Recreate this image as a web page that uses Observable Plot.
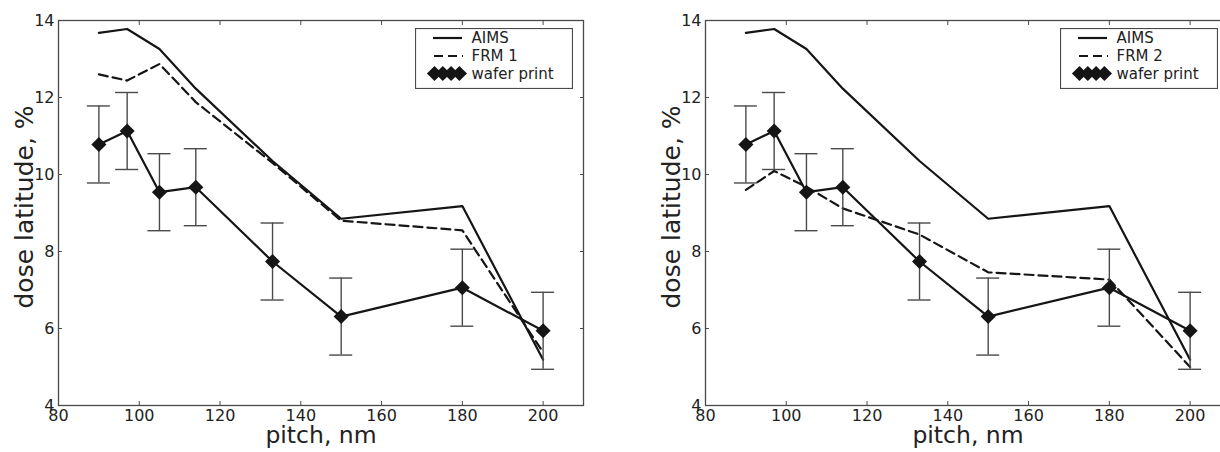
<!DOCTYPE html>
<html>
<head>
<meta charset="utf-8">
<script src="https://cdn.jsdelivr.net/npm/d3@7"></script>
<script src="https://cdn.jsdelivr.net/npm/@observablehq/plot@0.6"></script>
<style>
  html, body { margin: 0; padding: 0; background: #fff; overflow: hidden; }
  #wrap { position: relative; width: 1220px; height: 452px; overflow: hidden; font-family: "DejaVu Sans", sans-serif; }
  .panel { position: absolute; top: 0; }
  .legend { position: absolute; top: 28px; }
</style>
</head>
<body>
<div id="wrap"></div>
<script>
// ---- data ----
const pitch = [90, 97, 105, 114, 133, 150, 180, 200];
const aims  = [13.68, 13.78, 13.26, 12.23, 10.35, 8.85, 9.18, 5.19];
const frm1  = [12.60, 12.44, 12.87, 11.88, 10.30, 8.80, 8.55, 5.38];
const frm2  = [9.60, 10.09, 9.68, 9.12, 8.44, 7.46, 7.27, 5.00];
const wafer = [10.78, 11.13, 9.54, 9.67, 7.74, 6.31, 7.06, 5.94];
const waferErr = [1, 1, 1, 1, 1, 1, 1, 1];
const xTicks = [80, 100, 120, 140, 160, 180, 200];
const yTicks = [4, 6, 8, 10, 12, 14];
const xDomain = [80, 210];
const yDomain = [4, 14];
const capHalf = 2.85; // half width of error-bar caps, in pitch units

const rows = (ys) => pitch.map((x, i) => ({x, y: ys[i]}));
const waferRows = pitch.map((x, i) => ({x, y: wafer[i], lo: wafer[i] - waferErr[i], hi: wafer[i] + waferErr[i]}));

const INK = "#151515", FRAME = "#4a4a4a", ERR = "#4a4a4a";

function panel(frm, marginLeft) {
  const marginRight = 27;
  return Plot.plot({
    width: marginLeft + 525 + marginRight,
    height: 452,
    marginLeft, marginRight, marginTop: 20, marginBottom: 47,
    x: {domain: xDomain},
    y: {domain: yDomain},
    style: {fontFamily: "DejaVu Sans", fontSize: "16px", color: "#222", background: "transparent", overflow: "visible"},
    marks: [
      Plot.axisX(xTicks, {anchor: "bottom", tickSize: -4, text: null, label: null, stroke: FRAME}),
      Plot.axisX(xTicks.slice(1), {anchor: "top", tickSize: -4, text: null, label: null, stroke: FRAME}),
      Plot.axisX(xTicks, {anchor: "bottom", tickSize: 0, tickPadding: 4, label: null, fontSize: 16}),
      Plot.axisY(yTicks, {anchor: "left", tickSize: -4, text: null, label: null, stroke: FRAME}),
      Plot.axisY(yTicks, {anchor: "right", tickSize: -4, text: null, label: null, stroke: FRAME}),
      Plot.axisY(yTicks, {anchor: "left", tickSize: 0, tickPadding: 4, label: null, fontSize: 16}),
      Plot.frame({stroke: FRAME, strokeWidth: 1.3}),
      Plot.line(rows(aims), {x: "x", y: "y", stroke: INK, strokeWidth: 2.2}),
      Plot.line(rows(frm), {x: "x", y: "y", stroke: INK, strokeWidth: 2.2, strokeDasharray: "9,5"}),
      Plot.ruleX(waferRows, {x: "x", y1: "lo", y2: "hi", stroke: ERR, strokeWidth: 1.4}),
      Plot.ruleY(waferRows, {y: "lo", x1: d => d.x - capHalf, x2: d => d.x + capHalf, stroke: ERR, strokeWidth: 1.4}),
      Plot.ruleY(waferRows, {y: "hi", x1: d => d.x - capHalf, x2: d => d.x + capHalf, stroke: ERR, strokeWidth: 1.4}),
      Plot.line(waferRows, {x: "x", y: "y", stroke: INK, strokeWidth: 2.2}),
      Plot.dot(waferRows, {x: "x", y: "y", symbol: "diamond2", r: 6.8, fill: INK, stroke: "none"}),
      Plot.text(["pitch, nm"], {frameAnchor: "bottom", textAnchor: "middle", dy: 37, fontSize: 23.5, fill: "#222"}),
      Plot.text(["dose latitude, %"], {frameAnchor: "left", textAnchor: "middle", rotate: -90, dx: -34, dy: -6, fontSize: 25, fill: "#222"})
    ]
  });
}

function legendSvg(frmLabel) {
  const svg = d3.create("svg").attr("width", 158).attr("height", 61);
  svg.append("rect").attr("x", 0.5).attr("y", 0.5).attr("width", 157).attr("height", 60)
    .attr("fill", "#fff").attr("stroke", FRAME).attr("stroke-width", 1.2);
  svg.append("line").attr("x1", 18).attr("x2", 47).attr("y1", 10).attr("y2", 10)
    .attr("stroke", INK).attr("stroke-width", 2.2);
  svg.append("line").attr("x1", 18).attr("x2", 48).attr("y1", 28).attr("y2", 28)
    .attr("stroke", INK).attr("stroke-width", 2.2).attr("stroke-dasharray", "9,5").attr("stroke-dashoffset", -1);
  [19.5, 27.8, 36.1, 44.4].forEach(cx => {
    svg.append("path").attr("d", `M${cx},${45.5 - 7.6}L${cx + 7.6},45.5L${cx},${45.5 + 7.6}L${cx - 7.6},45.5Z`).attr("fill", INK);
  });
  const labels = ["AIMS", frmLabel, "wafer print"];
  [10, 28, 46].forEach((y, i) => {
    svg.append("text").attr("x", 56.5).attr("y", y).attr("dy", "0.36em")
      .attr("font-family", "DejaVu Sans").attr("font-size", 15).attr("fill", "#222").text(labels[i]);
  });
  return svg.node();
}

const wrap = document.getElementById("wrap");
const p1 = panel(frm1, 58);
p1.classList.add("panel"); p1.style.left = "0px";
wrap.appendChild(p1);
const p2 = panel(frm2, 95);
p2.classList.add("panel"); p2.style.left = "610px";
wrap.appendChild(p2);

const l1 = legendSvg("FRM 1"); l1.classList.add("legend"); l1.style.left = "415px"; wrap.appendChild(l1);
const l2 = legendSvg("FRM 2"); l2.classList.add("legend"); l2.style.left = "1060px"; wrap.appendChild(l2);
</script>
</body>
</html>
